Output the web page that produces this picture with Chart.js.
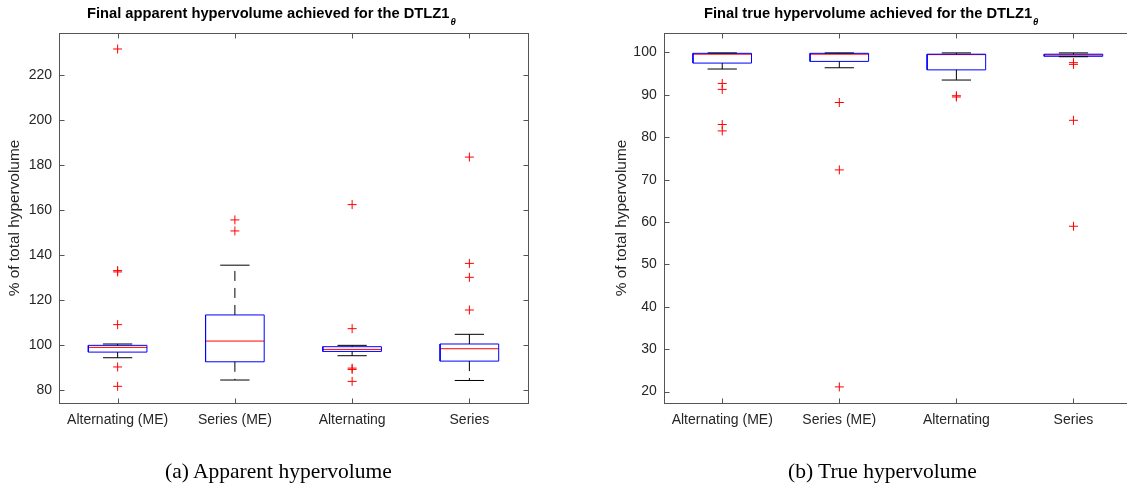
<!DOCTYPE html>
<html>
<head>
<meta charset="utf-8">
<script src="https://cdn.jsdelivr.net/npm/chart.js@4.4.1/dist/chart.umd.min.js"></script>
<style>
  body { margin: 0; width: 1127px; height: 487px; overflow: hidden; background: #fff; position: relative; }
  .wrap { position: absolute; top: 0; height: 487px; }
  .ttl { position: absolute; top: 5px; font: bold 14.7px 'Liberation Sans', Arial, sans-serif; line-height: 17px; white-space: nowrap; color: #000; }
  .ttl sub { font-style: italic; font-size: 9.5px; vertical-align: -7px; margin-left: 1px; }
  .cap { position: absolute; top: 461px; font: 21.5px 'Liberation Serif', 'Times New Roman', serif; line-height: 1; white-space: nowrap; color: #000; }
</style>
</head>
<body>
<div class="wrap" style="left:0;width:560px"><canvas id="apparentChart"></canvas></div>
<div class="wrap" style="left:560px;width:600px"><canvas id="trueChart"></canvas></div>
<div class="ttl" style="left:87px">Final apparent hypervolume achieved for the DTLZ1<sub>θ</sub></div>
<div class="ttl" style="left:704px">Final true hypervolume achieved for the DTLZ1<sub>θ</sub></div>
<div class="cap" style="left:165px">(a) Apparent hypervolume</div>
<div class="cap" style="left:788px">(b) True hypervolume</div>
<script>
const categories = ['Alternating (ME)', 'Series (ME)', 'Alternating', 'Series'];
const catPos = [1, 2, 3, 4];

// apparent hypervolume boxes
const appLow = [94.5, 84.6, 95.4, 84.4];
const appQ1 = [97.0, 92.7, 97.3, 93.0];
const appMed = [99.1, 101.9, 98.2, 98.5];
const appQ3 = [100.0, 113.5, 99.4, 100.6];
const appHigh = [100.6, 135.6, 100.0, 104.9];
const appOutliers = [
    [231.6, 133.2, 132.6, 109.2, 90.4, 81.8],
    [155.7, 150.8],
    [162.5, 107.4, 89.9, 89.3, 84.0],
    [183.6, 136.4, 130.2, 115.7]
];
const appTicks = [80, 100, 120, 140, 160, 180, 200, 220];

// true hypervolume boxes
const trueLow = [96.1, 96.4, 93.5, 99.0];
const trueQ1 = [97.5, 97.9, 95.9, 99.1];
const trueMed = [99.6, 99.6, 99.5, 99.4];
const trueQ3 = [99.8, 99.8, 99.6, 99.6];
const trueHigh = [99.9, 99.9, 99.9, 99.9];
const trueOutliers = [
    [92.7, 91.3, 83.0, 81.5],
    [88.2, 72.3, 21.1],
    [89.8, 89.5],
    [97.6, 97.2, 84.0, 59.0]
];
const trueTicks = [20, 30, 40, 50, 60, 70, 80, 90, 100];

const BOX_HALF = 0.25;
const CAP_HALF = 0.125;
const tickFont = { family: "'Liberation Sans', Arial, sans-serif", size: 14 };
const textColor = '#262626';

// join segments with null points so one dataset draws many pieces
function joinSegments(segments) {
    const out = [];
    segments.forEach((seg) => {
        seg.forEach(p => out.push(p));
        out.push({ x: seg[0].x, y: null });
    });
    return out;
}

function buildDatasets(low, q1, med, q3, high, outliers) {
    const boxes = catPos.map((x, i) => [
        { x: x - BOX_HALF, y: q1[i] }, { x: x + BOX_HALF, y: q1[i] },
        { x: x + BOX_HALF, y: q3[i] }, { x: x - BOX_HALF, y: q3[i] },
        { x: x - BOX_HALF, y: q1[i] }
    ]);
    const medians = catPos.map((x, i) => [{ x: x - BOX_HALF, y: med[i] }, { x: x + BOX_HALF, y: med[i] }]);
    const whiskers = [];
    catPos.forEach((x, i) => {
        whiskers.push([{ x: x, y: q3[i] }, { x: x, y: high[i] }]);
        whiskers.push([{ x: x, y: q1[i] }, { x: x, y: low[i] }]);
    });
    const caps = [];
    catPos.forEach((x, i) => {
        caps.push([{ x: x - CAP_HALF, y: high[i] }, { x: x + CAP_HALF, y: high[i] }]);
        caps.push([{ x: x - CAP_HALF, y: low[i] }, { x: x + CAP_HALF, y: low[i] }]);
    });
    const points = [];
    catPos.forEach((x, i) => outliers[i].forEach(v => points.push({ x: x, y: v })));

    const line = { showLine: true, pointRadius: 0, borderWidth: 1, spanGaps: false, tension: 0 };
    return [
        Object.assign({ data: joinSegments(whiskers), borderColor: '#000000', borderDash: [10, 7] }, line),
        Object.assign({ data: joinSegments(caps), borderColor: '#000000' }, line),
        Object.assign({ data: joinSegments(boxes), borderColor: '#0000ff' }, line),
        Object.assign({ data: joinSegments(medians), borderColor: '#ff0000' }, line),
        {
            data: points, showLine: false, pointStyle: 'cross', pointRadius: 4.5,
            borderColor: '#ff0000', borderWidth: 1, backgroundColor: '#ff0000'
        }
    ];
}

// MATLAB-like box around the axes with inward ticks
const framePlugin = {
    id: 'frame',
    afterDraw(chart) {
        const { ctx, chartArea: a, scales } = chart;
        const L = Math.round(a.left) + 0.5, R = Math.round(a.right) + 0.5;
        const T = Math.round(a.top) + 0.5, B = Math.round(a.bottom) + 0.5;
        ctx.save();
        ctx.strokeStyle = '#555555';
        ctx.lineWidth = 1;
        ctx.setLineDash([]);
        ctx.strokeRect(L, T, R - L, B - T);
        ctx.beginPath();
        scales.y.ticks.forEach((t) => {
            const py = Math.round(scales.y.getPixelForValue(t.value)) + 0.5;
            ctx.moveTo(L, py); ctx.lineTo(L + 5, py);
            ctx.moveTo(R, py); ctx.lineTo(R - 5, py);
        });
        scales.x.ticks.forEach((t) => {
            const px = Math.round(scales.x.getPixelForValue(t.value)) + 0.5;
            ctx.moveTo(px, B); ctx.lineTo(px, B - 5);
            ctx.moveTo(px, T); ctx.lineTo(px, T + 5);
        });
        ctx.stroke();
        ctx.restore();
    }
};

function makeChart(canvasId, datasets, yMin, yMax, yTicks, yWidth, padding) {
    return new Chart(document.getElementById(canvasId), {
        type: 'scatter',
        data: { datasets: datasets },
        options: {
            responsive: true,
            maintainAspectRatio: false,
            animation: false,
            layout: { padding: padding },
            plugins: { legend: { display: false }, tooltip: { enabled: false } },
            scales: {
                x: {
                    type: 'linear', min: 0.5, max: 4.5,
                    afterBuildTicks: (s) => { s.ticks = catPos.map(v => ({ value: v })); },
                    afterFit: (s) => { s.height = 84; },
                    grid: { display: false, drawTicks: false },
                    border: { display: false },
                    ticks: {
                        callback: v => categories[v - 1], font: tickFont, color: textColor,
                        padding: 9, autoSkip: false, maxRotation: 0
                    }
                },
                y: {
                    min: yMin, max: yMax,
                    afterBuildTicks: (s) => { s.ticks = yTicks.map(v => ({ value: v })); },
                    afterFit: (s) => { s.width = yWidth; },
                    grid: { display: false, drawTicks: false },
                    border: { display: false },
                    ticks: { font: tickFont, color: textColor, padding: 7 },
                    title: {
                        display: true, text: '% of total hypervolume', color: textColor,
                        font: { family: "'Liberation Sans', Arial, sans-serif", size: 15.4 },
                        padding: { top: 6, bottom: 0 }
                    }
                }
            }
        },
        plugins: [framePlugin]
    });
}

makeChart('apparentChart',
    buildDatasets(appLow, appQ1, appMed, appQ3, appHigh, appOutliers),
    74.4, 238.7, appTicks, 59, { top: 33, right: 32, bottom: 0, left: 0 });

makeChart('trueChart',
    buildDatasets(trueLow, trueQ1, trueMed, trueQ3, trueHigh, trueOutliers),
    17.3, 104.6, trueTicks, 56.7, { top: 33, right: 28, bottom: 0, left: 47 });
</script>
</body>
</html>
